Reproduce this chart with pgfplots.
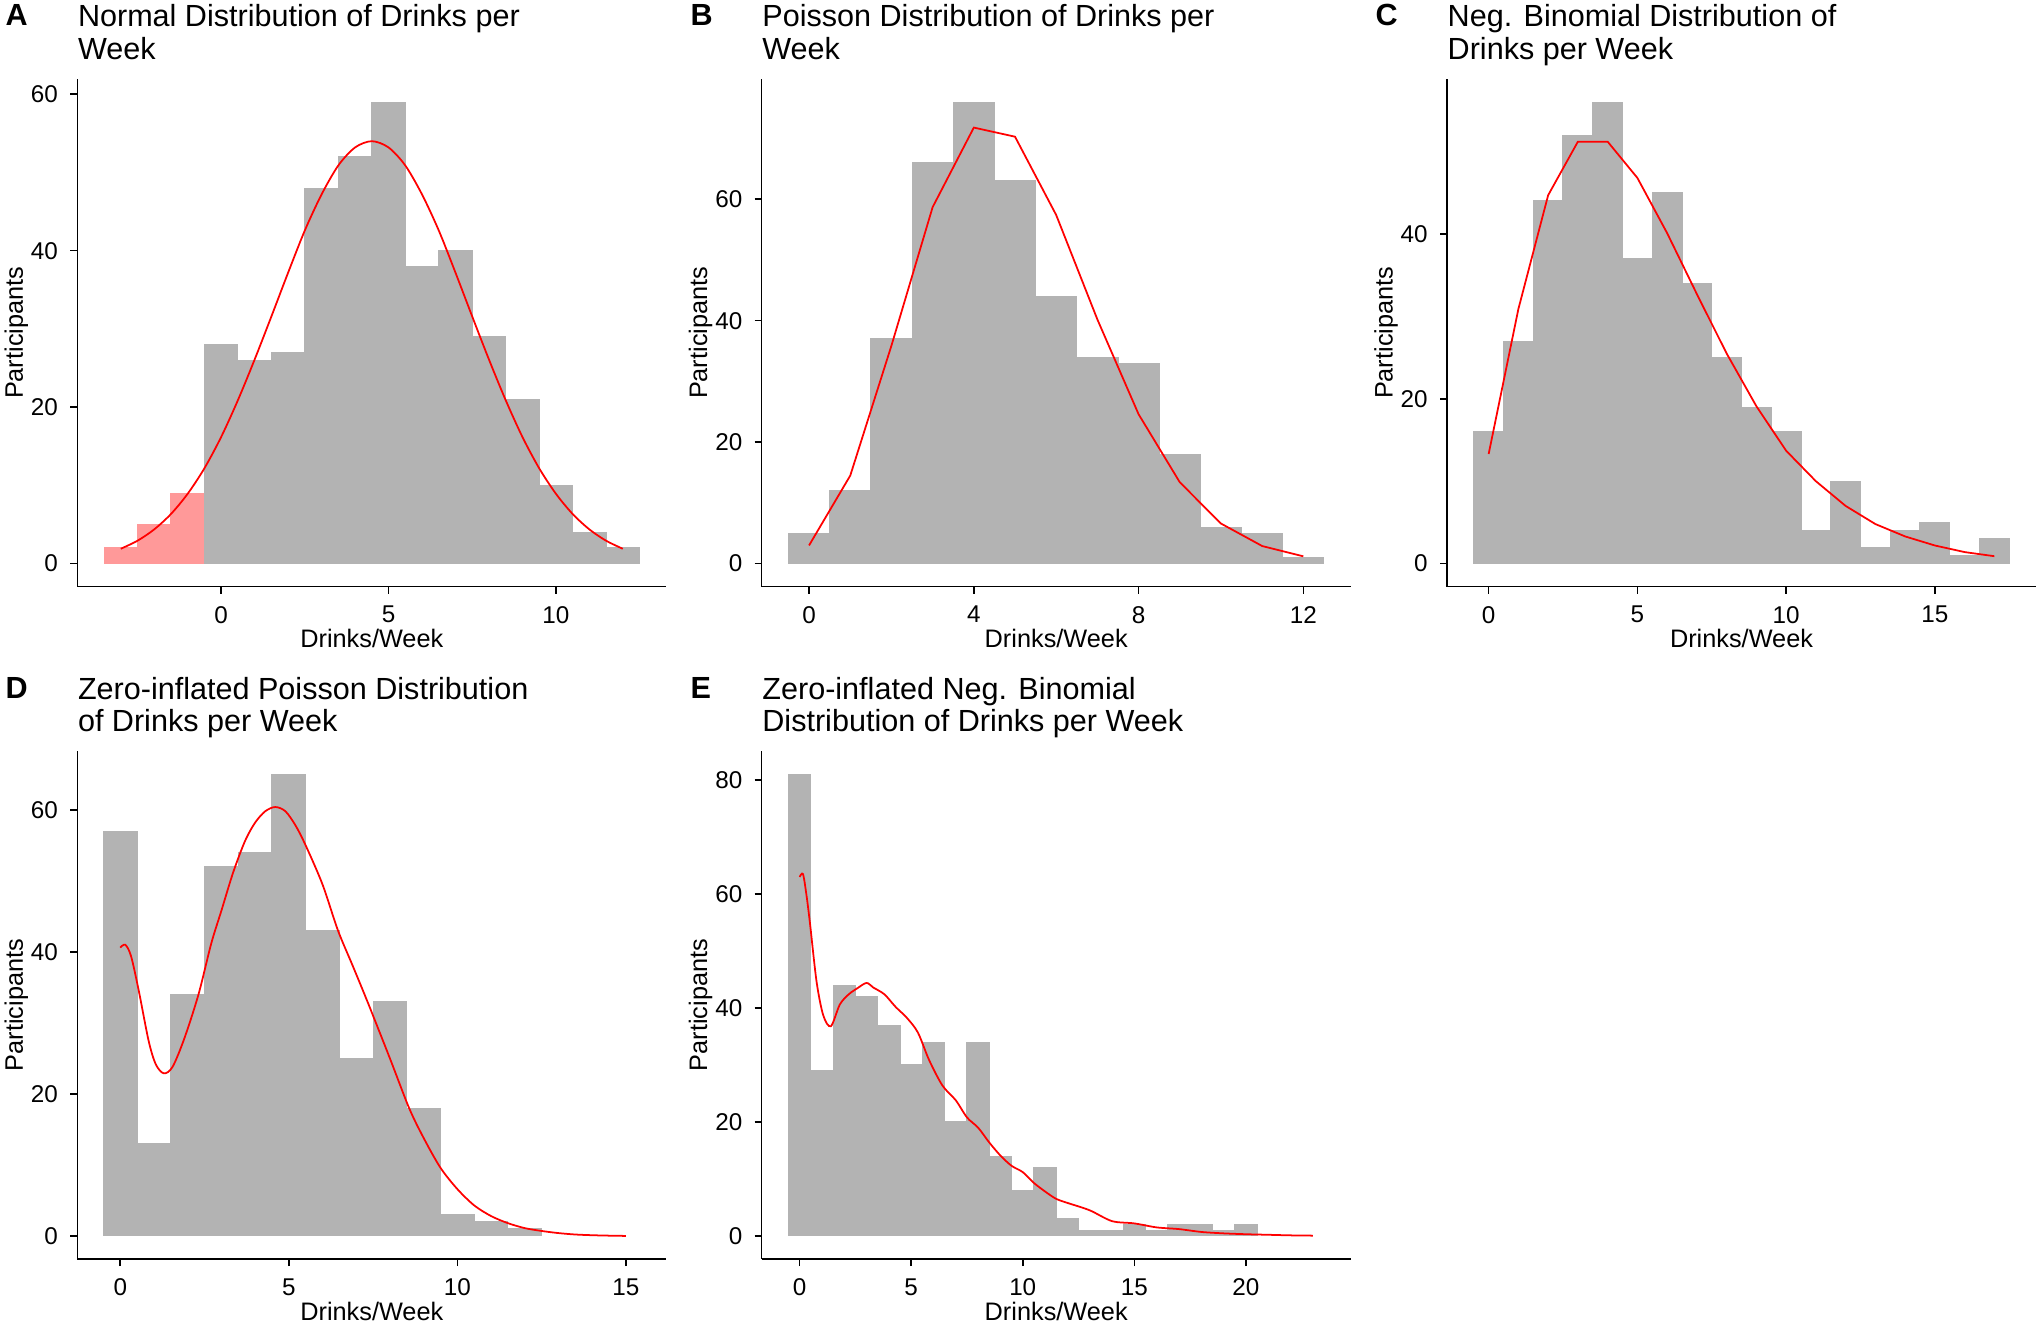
\documentclass[border=0pt]{standalone}
\usepackage{fontspec}
\setmainfont{Liberation Sans}
\usepackage{pgfplots}
\pgfplotsset{compat=1.18}

\definecolor{bargray}{RGB}{179,179,179}
\definecolor{barpink}{RGB}{255,153,153}
\definecolor{fitred}{RGB}{255,0,0}

\newcommand{\ttl}{\fontsize{8.7}{10}\selectfont}
\newcommand{\lbl}{\fontsize{7.2}{8.6}\selectfont}
\newcommand{\tck}{\fontsize{6.9}{8.2}\selectfont}

\pgfplotsset{
  panel/.style={
    scale only axis,
    width=5.89cm, height=5.077cm,
    anchor=south west,
    axis lines=left,
    axis line style={-, line width=0.45pt},
    tick align=outside,
    major tick length=0.07cm,
    tick style={black, line width=0.45pt},
    minor tick num=0,
    ticklabel style={font=\tck},
    /pgf/number format/assume math mode=true,
    xlabel={Drinks/Week}, ylabel={Participants},
    every axis x label/.style={at={(axis description cs:0.5,0)}, yshift=-0.52cm, anchor=center, font=\lbl},
    every axis y label/.style={at={(axis description cs:0,0.5)}, xshift=-0.61cm, rotate=90, anchor=center, font=\lbl},
  },
  bars/.style={ybar, bar width=1, bar shift=0pt, line width=0.3pt},
  fit/.style={fitred, line width=0.5pt, mark=none},
}

\begin{document}
\begin{tikzpicture}
\useasboundingbox (0,0) rectangle (20.40,13.24);

% titles and panel letters
\begin{scope}[every node/.style={anchor=base west, inner sep=0pt, font=\ttl}]
\node[font=\ttl\bfseries] at (0.05,12.98) {A};
\node at (0.773,12.973) {Normal Distribution of Drinks per};
\node at (0.773,12.647) {Week};
\node[font=\ttl\bfseries] at (6.90,12.98) {B};
\node at (7.617,12.973) {Poisson Distribution of Drinks per};
\node at (7.617,12.647) {Week};
\node[font=\ttl\bfseries] at (13.75,12.98) {C};
\node at (14.47,12.973) {Neg. Binomial Distribution of};
\node at (14.47,12.647) {Drinks per Week};
\node[font=\ttl\bfseries] at (0.05,6.25) {D};
\node at (0.773,6.247) {Zero-inflated Poisson Distribution};
\node at (0.773,5.921) {of Drinks per Week};
\node[font=\ttl\bfseries] at (6.90,6.25) {E};
\node at (7.617,6.247) {Zero-inflated Neg. Binomial};
\node at (7.617,5.921) {Distribution of Drinks per Week};
\end{scope}

% A: normal
\begin{axis}[panel, at={(0.773cm,7.373cm)},
  xmin=-4.3, xmax=13.3, ymin=-2.95, ymax=61.95,
  xtick={0,5,10}, ytick={0,20,40,60}]
\addplot[bars, fill=barpink, draw=barpink] coordinates {(-3,2)(-2,5)(-1,9)};
\addplot[bars, fill=bargray, draw=bargray] coordinates {
  (0,28)(1,26)(2,27)(3,48)(4,52)(5,59)(6,38)(7,40)(8,29)(9,21)(10,10)(11,4)(12,2)};
\addplot[fit, smooth] coordinates {
  (-3,1.9)(-2.5,2.93)(-2,4.38)(-1.5,6.35)(-1,8.94)(-0.5,12.2)(0,16.2)(0.5,20.9)
  (1,26.1)(1.5,31.6)(2,37.2)(2.5,42.6)(3,47.2)(3.5,50.9)(4,53.2)(4.5,54)
  (5,53.2)(5.5,50.9)(6,47.2)(6.5,42.6)(7,37.2)(7.5,31.6)(8,26.1)(8.5,20.9)
  (9,16.2)(9.5,12.2)(10,8.94)(10.5,6.35)(11,4.38)(11.5,2.93)(12,1.9)};
\end{axis}

% B: Poisson
\begin{axis}[panel, at={(7.617cm,7.373cm)},
  xmin=-1.15, xmax=13.15, ymin=-3.8, ymax=79.8,
  xtick={0,4,8,12}, ytick={0,20,40,60}]
\addplot[bars, fill=bargray, draw=bargray] coordinates {
  (0,5)(1,12)(2,37)(3,66)(4,76)(5,63)(6,44)(7,34)(8,33)(9,18)(10,6)(11,5)(12,1)};
\addplot[fit, sharp plot] coordinates {
  (0,3.0)(1,14.5)(2,35.9)(3,58.7)(4,71.8)(5,70.3)(6,57.4)(7,40.2)(8,24.6)
  (9,13.4)(10,6.6)(11,2.9)(12,1.2)};
\end{axis}

% C: negative binomial
\begin{axis}[panel, at={(14.47cm,7.373cm)},
  xmin=-1.4, xmax=18.4, ymin=-2.8, ymax=58.8,
  xtick={0,5,10,15}, ytick={0,20,40}]
\addplot[bars, fill=bargray, draw=bargray] coordinates {
  (0,16)(1,27)(2,44)(3,52)(4,56)(5,37)(6,45)(7,34)(8,25)(9,19)(10,16)(11,4)
  (12,10)(13,2)(14,4)(15,5)(16,1)(17,3)};
\addplot[fit, sharp plot] coordinates {
  (0,13.3)(1,30.9)(2,44.7)(3,51.2)(4,51.2)(5,46.8)(6,40.1)(7,32.7)(8,25.5)
  (9,19.1)(10,13.7)(11,10.0)(12,7.0)(13,4.8)(14,3.3)(15,2.2)(16,1.4)(17,0.9)};
\end{axis}

% D: zero-inflated Poisson
\begin{axis}[panel, at={(0.773cm,0.65cm)},
  xmin=-1.275, xmax=16.2, ymin=-3.25, ymax=68.25,
  xtick={0,5,10,15}, ytick={0,20,40,60}]
\addplot[bars, fill=bargray, draw=bargray] coordinates {
  (0,57)(1,13)(2,34)(3,52)(4,54)(5,65)(6,43)(7,25)(8,33)(9,18)(10,3)(11,2)(12,1)};
\addplot[fit, smooth] coordinates {
  (0,40.6)(0.15,41.0)(0.32,39.4)(0.55,34.5)(0.84,27.5)(1.05,24.2)(1.29,22.9)
  (1.55,23.8)(1.9,27.8)(2.32,34)(2.7,41.2)(3.0,45.8)(3.35,51.2)(3.7,55.6)
  (4.0,58.2)(4.3,59.8)(4.6,60.4)(4.9,59.8)(5.2,57.8)(5.5,55.0)(6.0,49.5)
  (6.46,43)(6.9,38.0)(7.35,32.8)(8.0,25)(8.57,18)(9.0,13.8)(9.5,9.6)(10,6.6)
  (10.5,4.3)(11,2.8)(11.5,1.8)(12,1.1)(12.5,0.7)(13,0.4)(13.5,0.2)(14,0.1)
  (14.5,0.04)(15,0)};
\end{axis}

% E: zero-inflated negative binomial
\begin{axis}[panel, at={(7.617cm,0.65cm)},
  xmin=-1.7, xmax=24.7, ymin=-4.05, ymax=85.05,
  xtick={0,5,10,15,20}, ytick={0,20,40,60,80}]
\addplot[bars, fill=bargray, draw=bargray] coordinates {
  (0,81)(1,29)(2,44)(3,42)(4,37)(5,30)(6,34)(7,20)(8,34)(9,14)(10,8)(11,12)
  (12,3)(13,1)(14,1)(15,2)(16,1)(17,2)(18,2)(19,1)(20,2)};
\addplot[fit, smooth] coordinates {
  (0,63)(0.15,63.5)(0.3,60)(0.46,55)(0.76,44.6)(1.06,38.7)(1.4,36.8)(1.8,40.6)
  (2.2,42.4)(2.6,43.5)(3.0,44.4)(3.3,43.6)(3.8,42.4)(4.3,40.2)(4.8,38.3)
  (5.3,35.7)(5.8,30.9)(6.4,26.4)(7.0,23.8)(7.5,20.8)(8.0,19.0)(8.5,16.4)
  (9.0,14.1)(9.5,12.3)(10,11.2)(10.5,9.3)(11,7.8)(11.5,6.5)(12,5.8)(13,4.5)
  (14,2.6)(15,2.2)(16,1.5)(17,1.2)(18,0.7)(19,0.45)(20,0.3)(21,0.2)(22,0.1)
  (23,0.05)};
\end{axis}
\end{tikzpicture}
\end{document}
